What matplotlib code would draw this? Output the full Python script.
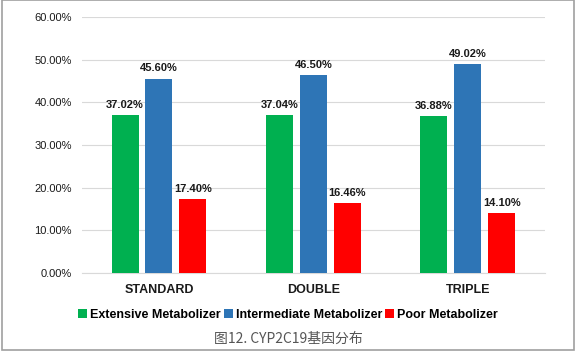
import matplotlib
matplotlib.use("Agg")
import matplotlib.pyplot as plt
import numpy as np
from matplotlib.patches import Rectangle

categories = ["STANDARD", "DOUBLE", "TRIPLE"]
series_names = ["Extensive Metabolizer", "Intermediate Metabolizer", "Poor Metabolizer"]
extensive = [37.02, 37.04, 36.88]
intermediate = [45.60, 46.50, 49.02]
poor = [17.40, 16.46, 14.10]
yticks = [0, 10, 20, 30, 40, 50, 60]
colors = ["#00B050", "#2E75B6", "#FF0000"]
caption = "图12. CYP2C19基因分布"

plt.rcParams['font.family'] = ['Liberation Sans', 'DejaVu Sans']

fig = plt.figure(figsize=(5.76, 3.56), dpi=100)
ax = fig.add_axes([0.142, 0.233, 0.804, 0.719])

x = np.arange(len(categories))
w = 0.175
offs = [-0.22, 0, 0.22]
for vals, name, c, o in zip([extensive, intermediate, poor], series_names, colors, offs):
    bars = ax.bar(x + o, vals, w, color=c, label=name, zorder=3)
    for b, v in zip(bars, vals):
        ax.text(b.get_x() + b.get_width() / 2, v + 1.2, f"{v:.2f}%",
                ha="center", va="bottom", fontsize=8, fontweight="bold", color="#1a1a1a")

ax.set_xlim(-0.5, 2.5)
ax.set_ylim(0, 60)
ax.set_yticks(yticks)
ax.set_yticklabels([f"{v:.2f}%" for v in yticks], fontsize=8, color="#1a1a1a")
ax.set_xticks(x)
ax.set_xticklabels(categories, fontsize=9, fontweight="bold", color="#1a1a1a")
ax.tick_params(axis="both", length=0)
ax.tick_params(axis="y", pad=7)
ax.tick_params(axis="x", pad=8)
ax.grid(axis="y", color="#D9D9D9", linewidth=0.8, zorder=0)
for s in ["left", "right", "top"]:
    ax.spines[s].set_visible(False)
ax.spines["bottom"].set_color("#D9D9D9")
ax.spines["bottom"].set_linewidth(0.8)

leg = fig.legend(loc="center", bbox_to_anchor=(0.5, 0.115), ncol=3, frameon=False,
                 prop={"size": 9, "weight": "bold"}, handlelength=0.7, handleheight=0.7,
                 handletextpad=0.25, columnspacing=0.25)

fig.text(0.5, 0.048, caption, ha="center", va="center", fontsize=10, color="#555555",
         family=["Noto Sans CJK SC", "DejaVu Sans"])

fig.patches.append(Rectangle((0.004, 0.016), 0.992, 0.984, transform=fig.transFigure,
                             fill=False, edgecolor="#A0A0A0", linewidth=1.2))

fig.savefig("out.png", dpi=100)
